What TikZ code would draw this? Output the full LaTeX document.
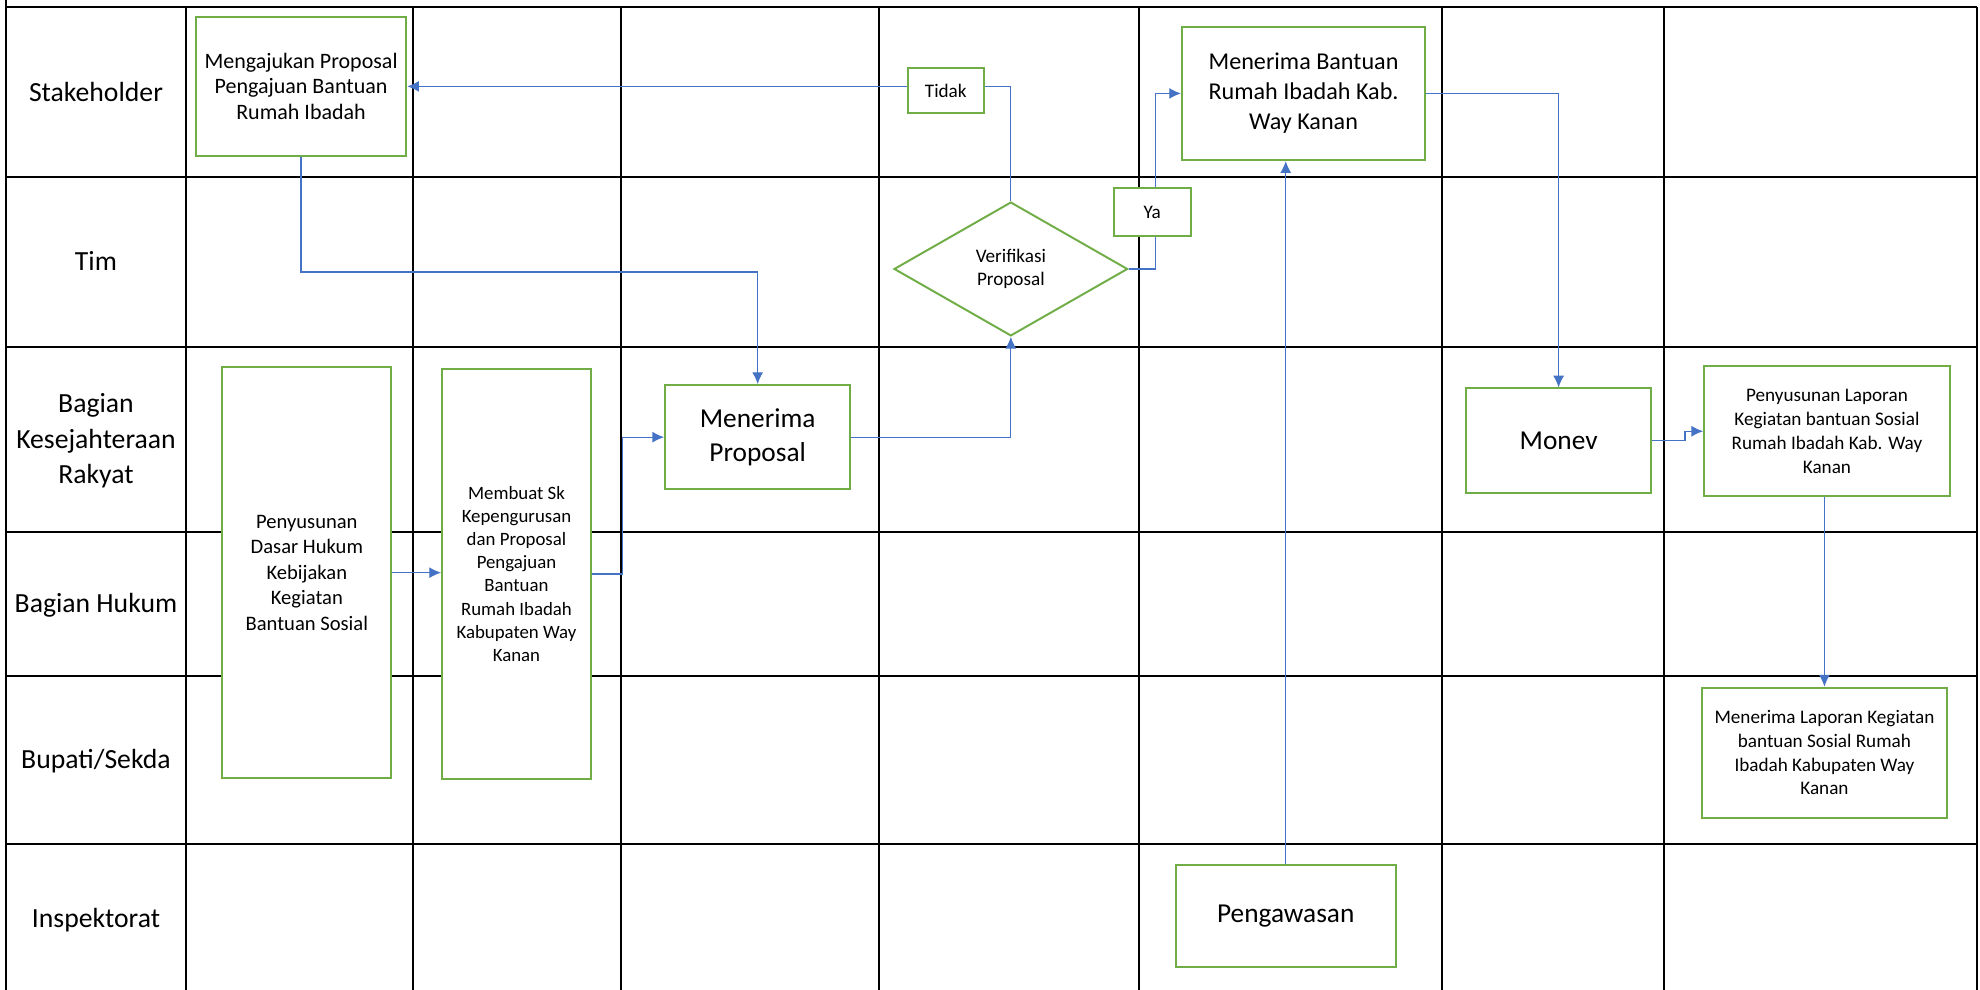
\documentclass[tikz,border=0pt]{standalone}
\usepackage{fontspec}
\setmainfont{Carlito}
\usetikzlibrary{shapes.geometric,arrows.meta}
\tikzset{>={Latex[length=3.3pt,width=3.1pt]}}
\definecolor{mygreen}{RGB}{112,173,71}
\definecolor{myblue}{RGB}{68,114,196}
\tikzset{
  lane/.style={align=center,font=\fontsize{7.8}{10}\selectfont},
  proc/.style={draw=mygreen,line width=0.55pt,fill=white,align=center,inner sep=0pt},
  big/.style={font=\fontsize{7.7}{9.4}\selectfont},
  mid/.style={font=\fontsize{6.8}{8.4}\selectfont},
  small/.style={font=\fontsize{5.4}{6.7}\selectfont},
  flow/.style={->,draw=myblue,line width=0.35pt},
}

\begin{document}
\begin{tikzpicture}[x=0.125mm,y=-0.125mm]

  \def\un{0.125mm} % one unit

  \useasboundingbox (0,0) rectangle (1568,784);

  % grid
  \draw[line width=0.6pt] (5,0) -- (5,784);
  \foreach \gx in {147.4,327,491.6,696,902,1141.6,1318,1565.3}
    \draw[line width=0.6pt] (\gx,5.3) -- (\gx,784);
  \foreach \gy in {5.3,140,274.5,421,535,668.4}
    \draw[line width=0.6pt] (5,\gy) -- (1565.3,\gy);

  % lanes
  \node[lane] (stake) at (76,73) {Stakeholder};
  \node[lane] (tim) at (76,207) {Tim};
  \node[lane] (kesra) at (76,349) {Bagian\\Kesejahteraan\\Rakyat};
  \node[lane] (hukum) at (76,479) {Bagian Hukum};
  \node[lane] (bupati) at (76,603) {Bupati/Sekda};
  \node[lane] (inspek) at (76,728.6) {Inspektorat};

  % boxes
  \node[proc,font=\fontsize{6.2}{7.2}\selectfont,minimum width=166.7*\un,minimum height=110.3*\un]
    (mengajukan) at (238.4,68.4) {Mengajukan Proposal\\Pengajuan Bantuan\\Rumah Ibadah};
  \node[proc,mid,minimum width=192.6*\un,minimum height=105.7*\un]
    (bantuan) at (1032.3,74) {Menerima Bantuan\\Rumah Ibadah Kab.\\Way Kanan};
  \node[proc,small,diamond,minimum width=185*\un,minimum height=106*\un]
    (verif) at (800.5,213) {Verifikasi\\Proposal};
  \node[proc,big,minimum width=146.6*\un,minimum height=82.6*\un]
    (proposal) at (600,346.2) {Menerima\\Proposal};
  \node[proc,font=\fontsize{5.8}{7.2}\selectfont,minimum width=134*\un,minimum height=325*\un]
    (dasar) at (243,453.5) {Penyusunan\\Dasar Hukum\\Kebijakan\\Kegiatan\\Bantuan Sosial};
  \node[proc,font=\fontsize{5.3}{6.5}\selectfont,minimum width=118*\un,minimum height=325*\un]
    (membuat) at (409,454.5) {Membuat Sk\\Kepengurusan\\dan Proposal\\Pengajuan\\Bantuan\\Rumah Ibadah\\Kabupaten Way\\Kanan};
  \node[proc,big,minimum width=146.5*\un,minimum height=82.5*\un]
    (monev) at (1234.3,348.8) {Monev};
  \node[proc,small,minimum width=194.5*\un,minimum height=103*\un]
    (laporan) at (1446.8,341.5) {Penyusunan Laporan\\Kegiatan bantuan Sosial\\Rumah Ibadah Kab. Way\\Kanan};
  \node[proc,small,minimum width=194.4*\un,minimum height=103*\un]
    (terima) at (1444.8,596) {Menerima Laporan Kegiatan\\bantuan Sosial Rumah\\Ibadah Kabupaten Way\\Kanan};
  \node[proc,big,minimum width=174.5*\un,minimum height=81*\un]
    (pengawasan) at (1018.2,725.5) {Pengawasan};

  % arrows
  \draw[flow] (mengajukan.south) -- ++(0,91) -| (proposal.north);
  \draw[flow] (proposal.east) -| (verif.south);
  \draw[flow] (verif.north) |- (mengajukan.east);
  \draw[flow] (verif.east) -- ++(21.5,0) |- (bantuan.west);
  \draw[flow] (pengawasan.north) -- (pengawasan.north |- bantuan.south);
  \draw[flow] (bantuan.east) -| (monev.north);
  \draw[flow] (monev.east) -- ++(26,0) |- (laporan.west);
  \draw[flow] (laporan.south -| terima.north) -- (terima.north);
  \draw[flow] (dasar.east) -- (dasar.east -| membuat.west);
  \draw[flow] (membuat.east) -- ++(24,0) |- (proposal.west);

  % answers
  \node[proc,small,minimum width=60*\un,minimum height=36*\un]
    (tidak) at (749,71.6) {Tidak};
  \node[proc,small,minimum width=61*\un,minimum height=38*\un]
    (ya) at (912.5,168) {Ya};

\end{tikzpicture}
\end{document}
